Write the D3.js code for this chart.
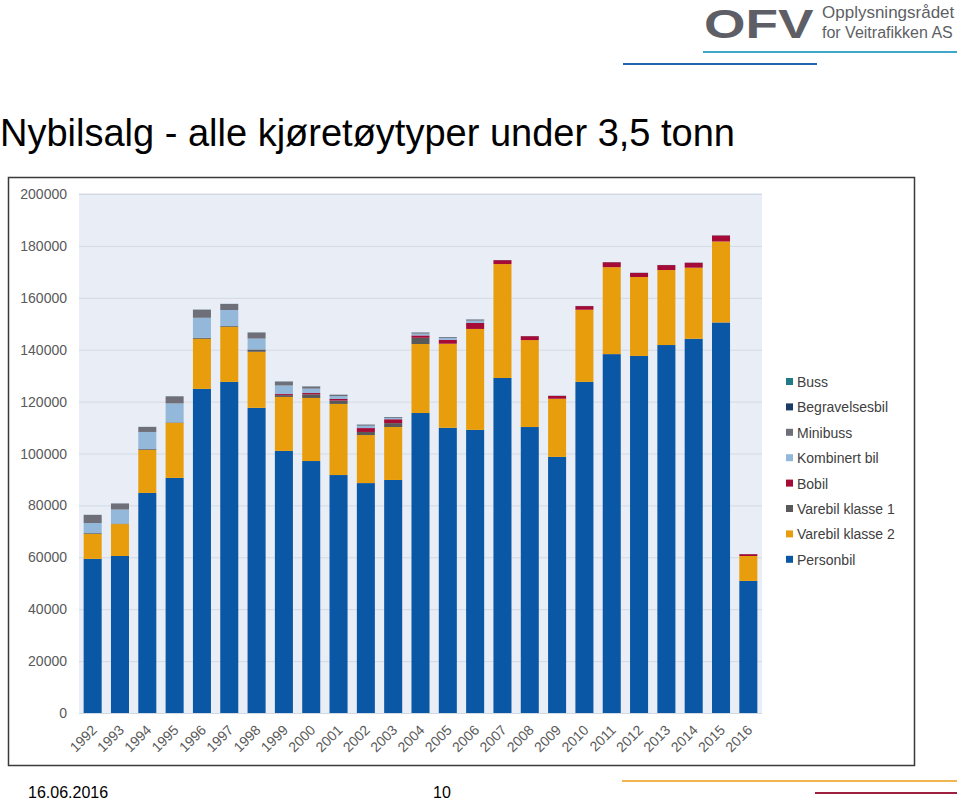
<!DOCTYPE html>
<html>
<head>
<meta charset="utf-8">
<script src="https://cdn.jsdelivr.net/npm/d3@7"></script>
<style>
  body { margin: 0; background: #fff; }
  svg { display: block; font-family: "Liberation Sans", Arial, sans-serif; }
</style>
</head>
<body>
<div id="chart"></div>
<script>
// Data
const years = ['1992','1993','1994','1995','1996','1997','1998','1999','2000','2001','2002','2003','2004',
  '2005','2006','2007','2008','2009','2010','2011','2012','2013','2014','2015','2016'];

const personbil    = [59400, 60500, 84800, 90600, 124900, 127600, 117600, 101000, 97100, 91700, 88600, 89800, 115600,
  109900, 109100, 129100, 110200, 98700, 127600, 138300, 137600, 141800, 144200, 150500, 50900];
const varebil2     = [9600, 12300, 16600, 21200, 19300, 21200, 21600, 20800, 24300, 27400, 18500, 20400, 26600,
  32400, 38900, 43900, 33500, 22400, 27800, 33500, 30400, 28900, 27400, 31200, 9600];
const varebil1     = [300, 200, 300, 200, 400, 300, 900, 700, 1400, 1300, 1200, 1500, 2400,
  0, 0, 0, 0, 0, 0, 0, 0, 0, 0, 0, 0];
const bobil        = [0, 0, 0, 0, 0, 0, 0, 400, 500, 600, 1500, 1500, 900,
  1500, 2300, 1500, 1500, 1100, 1400, 1900, 1600, 1900, 1900, 2300, 700];
const kombinert    = [3900, 5400, 6600, 7300, 7700, 6200, 4200, 3300, 1700, 1100, 900, 500, 700,
  700, 900, 0, 0, 0, 0, 0, 0, 0, 0, 0, 0];
const minibuss     = [3100, 2300, 1900, 2700, 3100, 2300, 2300, 1500, 800, 500, 400, 300, 400,
  300, 400, 0, 0, 0, 0, 0, 0, 0, 0, 0, 0];
const begravelse   = [40, 40, 40, 40, 40, 40, 40, 40, 40, 40, 40, 40, 40,
  40, 40, 40, 40, 40, 40, 40, 40, 40, 40, 40, 20];
const buss         = [20, 20, 20, 20, 20, 20, 20, 20, 20, 20, 20, 20, 20,
  20, 20, 20, 20, 20, 20, 20, 20, 20, 20, 20, 10];

// bottom to top in the stack
const seriesNames = ['Personbil', 'Varebil klasse 2', 'Varebil klasse 1', 'Bobil',
  'Kombinert bil', 'Minibuss', 'Begravelsesbil', 'Buss'];
const seriesValues = [personbil, varebil2, varebil1, bobil, kombinert, minibuss, begravelse, buss];
const seriesColors = ['#0a57a5', '#e89e0c', '#595959', '#a50b36', '#93b8da', '#6e6f78', '#1b3a66', '#217a86'];

const yTicks = [0, 20000, 40000, 60000, 80000, 100000, 120000, 140000, 160000, 180000, 200000];

const width = 960;
const height = 801;
const plot = { left: 79, right: 762, top: 194, bottom: 713 };

const svg = d3.select('#chart').append('svg')
    .attr('width', width)
    .attr('height', height);

// header: logo + lines
svg.append('text')
    .attr('transform', 'translate(704,38) scale(1.3,1)')
    .style('font-size', '41px').style('font-weight', 'bold')
    .style('fill', '#5e5f66')
    .text('OFV');
svg.append('text')
    .attr('x', 822).attr('y', 18)
    .style('font-size', '17px').style('fill', '#5e5f66')
    .text('Opplysningsrådet');
svg.append('text')
    .attr('x', 822).attr('y', 38)
    .style('font-size', '16px').style('fill', '#5e5f66')
    .text('for Veitrafikken AS');

svg.append('line').attr('x1', 703).attr('x2', 957).attr('y1', 52).attr('y2', 52)
    .attr('stroke', '#41a7c9').attr('stroke-width', 2);
svg.append('line').attr('x1', 623).attr('x2', 817).attr('y1', 64).attr('y2', 64)
    .attr('stroke', '#2166ae').attr('stroke-width', 2);

// title
svg.append('text')
    .attr('x', 0).attr('y', 146)
    .style('font-size', '38px').style('fill', '#000')
    .text('Nybilsalg - alle kjøretøytyper under 3,5 tonn');

// chart frame
svg.append('rect')
    .attr('x', 8.5).attr('y', 177.5)
    .attr('width', 906).attr('height', 588)
    .attr('fill', '#fff')
    .attr('stroke', '#3a3a3a').attr('stroke-width', 1.5);

// plot background
svg.append('rect')
    .attr('x', plot.left).attr('y', plot.top - 1)
    .attr('width', plot.right - plot.left).attr('height', plot.bottom - plot.top + 2)
    .attr('fill', '#e9eef6');

const x = d3.scaleBand()
    .domain(years)
    .range([plot.left, plot.right])
    .paddingInner(0.34)
    .paddingOuter(0.17);

const y = d3.scaleLinear()
    .domain([0, 200000])
    .range([plot.bottom, plot.top]);

// gridlines
svg.append('g')
    .selectAll('line')
    .data(yTicks)
    .join('line')
    .attr('x1', plot.left).attr('x2', plot.right)
    .attr('y1', d => y(d) + 0.5).attr('y2', d => y(d) + 0.5)
    .attr('stroke', '#d3d9e2').attr('stroke-width', 1);

// y labels
svg.append('g')
    .selectAll('text')
    .data(yTicks)
    .join('text')
    .attr('x', 67)
    .attr('y', d => y(d) + 5)
    .style('text-anchor', 'end')
    .style('font-size', '14px')
    .style('fill', '#595959')
    .text(d => d);

// stack
const table = years.map((yr, i) => {
  const row = { year: yr };
  seriesNames.forEach((n, k) => row[n] = seriesValues[k][i]);
  return row;
});
const stacked = d3.stack().keys(seriesNames)(table);

svg.append('g')
    .selectAll('g')
    .data(stacked)
    .join('g')
    .attr('fill', (d, i) => seriesColors[i])
    .selectAll('rect')
    .data(d => d)
    .join('rect')
    .attr('x', d => x(d.data.year))
    .attr('width', x.bandwidth())
    .attr('y', d => y(d[1]))
    .attr('height', d => y(d[0]) - y(d[1]));

// x labels
svg.append('g')
    .selectAll('text')
    .data(years)
    .join('text')
    .attr('transform', d => `translate(${x(d) + x.bandwidth() / 2 + 5}, 731) rotate(-45)`)
    .style('text-anchor', 'end')
    .style('font-size', '14px')
    .style('fill', '#595959')
    .text(d => d);

// legend (reversed order)
const legendItems = seriesNames.map((n, i) => ({ name: n, color: seriesColors[i] })).reverse();
const legend = svg.append('g')
    .selectAll('g')
    .data(legendItems)
    .join('g')
    .attr('transform', (d, i) => `translate(786, ${382 + i * 25.4})`);
legend.append('rect')
    .attr('x', 0).attr('y', -4)
    .attr('width', 7).attr('height', 7)
    .attr('fill', d => d.color);
legend.append('text')
    .attr('x', 11).attr('y', 5)
    .style('font-size', '14px')
    .style('fill', '#404040')
    .text(d => d.name);

// footer
svg.append('text')
    .attr('x', 28).attr('y', 798)
    .style('font-size', '16px').style('fill', '#000')
    .text('16.06.2016');
svg.append('text')
    .attr('x', 433).attr('y', 798)
    .style('font-size', '16px').style('fill', '#000')
    .text('10');
svg.append('line').attr('x1', 622).attr('x2', 957).attr('y1', 781).attr('y2', 781)
    .attr('stroke', '#f0b450').attr('stroke-width', 2);
svg.append('line').attr('x1', 815).attr('x2', 957).attr('y1', 793).attr('y2', 793)
    .attr('stroke', '#a02040').attr('stroke-width', 2);
</script>
</body>
</html>
